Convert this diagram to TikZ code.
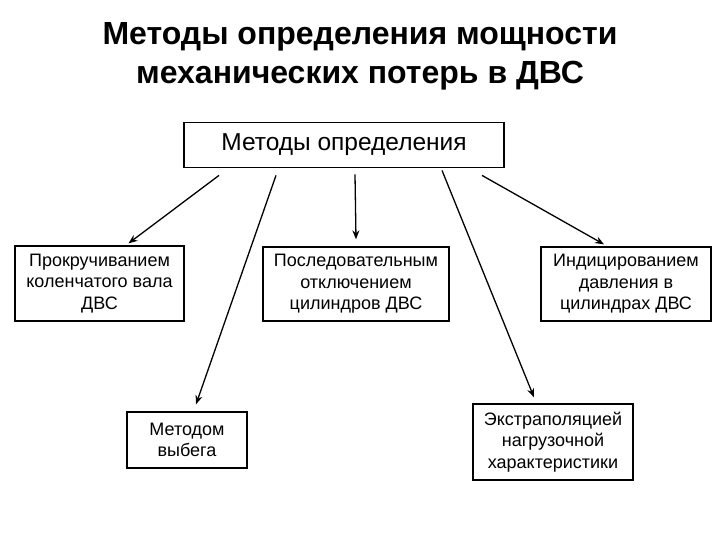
\documentclass[tikz,border=0pt]{standalone}
\usepackage{fontspec}
\setmainfont{Liberation Sans}
\usetikzlibrary{arrows.meta}

\begin{document}
\begin{tikzpicture}[x=1pt, y=-1pt,
      box/.style={draw, line width=1.3pt, align=center, inner sep=0pt,
         font=\fontsize{18}{21.5}\selectfont},
      arr/.style={-{Stealth[length=9pt, width=7pt]}, line width=1.3pt}]
   \useasboundingbox (0,0) rectangle (720,540);
   % Title
   \node[align=center, font=\fontsize{32}{39}\selectfont\bfseries] (title) at (360,56)
      {Методы определения мощности\\механических потерь в ДВС};
   % Top box
   \node[box, line width=1.8pt, minimum width=320pt, minimum height=45pt,
      font=\fontsize{24.5}{28}\selectfont] (top) at (344,145) {Методы определения};
   % First row
   \node[box, minimum width=169pt, minimum height=75pt] (crank) at (99.5,283.5)
      {Прокручиванием\\коленчатого вала\\ДВС};
   \node[box, minimum width=186pt, minimum height=74pt] (cyl) at (356,284)
      {Последовательным\\отключением\\цилиндров ДВС};
   \node[box, minimum width=170pt, minimum height=74pt] (indic) at (626,284)
      {Индицированием\\давления в\\цилиндрах ДВС};
   % Second row
   \node[box, minimum width=120pt, minimum height=56pt] (runout) at (187,440)
      {Методом\\выбега};
   \node[box, minimum width=160pt, minimum height=76pt] (extra) at (553,442)
      {Экстраполяцией\\нагрузочной\\характеристики};
   % Arrow starts under the top box
   \coordinate (s1) at ([xshift=-125pt, yshift=-7pt]top.south);
   \coordinate (s2) at ([xshift=-68pt, yshift=-7pt]top.south);
   \coordinate (s3) at ([xshift=11pt, yshift=-6pt]top.south);
   \coordinate (s4) at ([xshift=98pt, yshift=-2pt]top.south);
   \coordinate (s5) at ([xshift=138pt, yshift=-7pt]top.south);
   % Arrows
   \draw[arr] (s1) -- ([xshift=29pt, yshift=2pt]crank.north);
   \draw[arr] (s2) -- ([xshift=9pt, yshift=7pt]runout.north);
   \draw[arr] (s3) -- ([yshift=7pt]cyl.north);
   \draw[arr] (s4) -- ([xshift=-19pt, yshift=6pt]extra.north);
   \draw[arr] (s5) -- ([xshift=-22pt, yshift=2pt]indic.north);
\end{tikzpicture}
\end{document}
